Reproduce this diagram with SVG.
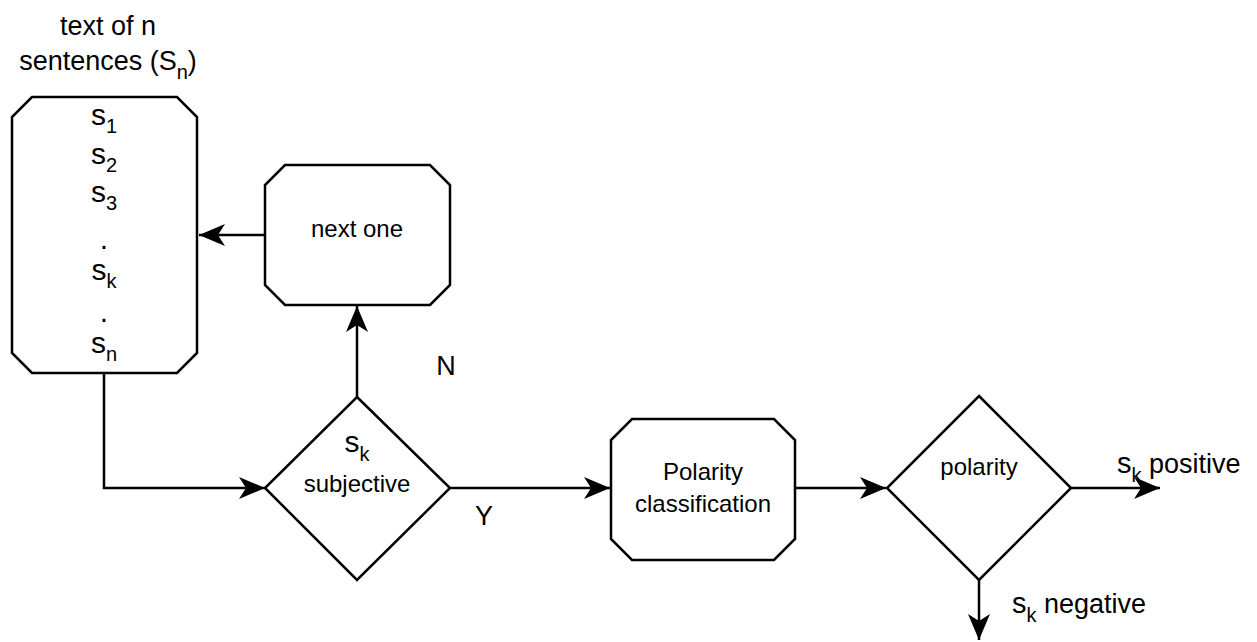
<svg xmlns="http://www.w3.org/2000/svg" width="1257" height="642" viewBox="0 0 1257 642">
<style>
.shape{fill:#fff;stroke:#000;stroke-width:2.5}
.edge{fill:none;stroke:#000;stroke-width:2.5}
text{font-family:"Liberation Sans",Arial,sans-serif;fill:#000}
.lbl{font-size:24px;text-anchor:middle}
.big{font-size:27px}
.s{font-size:30px;text-anchor:middle}
.sub{font-size:20px}
</style>
<defs>
<marker id="arr" viewBox="-27 -12 28 24" markerWidth="28" markerHeight="24" refX="0" refY="0" orient="auto" markerUnits="userSpaceOnUse">
<path d="M0,0 L-26,-11 L-19,0 L-26,11 Z" fill="#000"/>
</marker>
</defs>
<rect width="1257" height="642" fill="#fff"/>
<g id="title">
<text class="big" font-size="28" x="108" y="35" text-anchor="middle">text of n</text>
<text class="big" font-size="28" x="108" y="70" text-anchor="middle">sentences (S<tspan class="sub" font-size="22" dy="9">n</tspan><tspan dy="-9">)</tspan></text>
</g>
<g id="connectors">
<path class="edge" d="M104,373 V488 H265" marker-end="url(#arr)"/>
<path class="edge" d="M265,235 H199" marker-end="url(#arr)"/>
<path class="edge" d="M357,397 V306" marker-end="url(#arr)"/>
<path class="edge" d="M450,488 H610" marker-end="url(#arr)"/>
<path class="edge" d="M795,488 H886" marker-end="url(#arr)"/>
<path class="edge" d="M1071,488 H1160" marker-end="url(#arr)"/>
<path class="edge" d="M979,580 V640" marker-end="url(#arr)"/>
<text class="big" x="446" y="375" text-anchor="middle">N</text>
<text class="big" x="484" y="525" text-anchor="middle">Y</text>
<text class="big" x="1117" y="473"><tspan font-size="29">s</tspan><tspan class="sub" dy="9">k</tspan><tspan dy="-9"> positive</tspan></text>
<text class="big" x="1012" y="613"><tspan font-size="29">s</tspan><tspan class="sub" dy="9">k</tspan><tspan dy="-9"> negative</tspan></text>
</g>
<g id="sentences">
<path class="shape" d="M32,97 H177 L197,117 V353 L177,373 H32 L12,353 V117 Z"/>
<text class="s" x="104" y="125">s<tspan class="sub" dy="8">1</tspan></text>
<text class="s" x="104" y="164">s<tspan class="sub" dy="8">2</tspan></text>
<text class="s" x="104" y="202">s<tspan class="sub" dy="8">3</tspan></text>
<text class="s" x="104" y="249">.</text>
<text class="s" x="104" y="280">s<tspan class="sub" dy="8">k</tspan></text>
<text class="s" x="104" y="322">.</text>
<text class="s" x="104" y="353">s<tspan class="sub" dy="8">n</tspan></text>
</g>
<g id="next-one">
<path class="shape" d="M285,165 H430 L450,185 V285 L430,305 H285 L265,285 V185 Z"/>
<text class="lbl" x="357" y="237">next one</text>
</g>
<g id="subjective">
<path class="shape" d="M357,397 L450,488 L357,580 L265,488 Z"/>
<text class="s" x="357" y="452">s<tspan class="sub" dy="9">k</tspan></text>
<text class="lbl" x="357" y="492">subjective</text>
</g>
<g id="polarity-classification">
<path class="shape" d="M632,419 H774 L795,440 V539 L774,560 H632 L611,539 V440 Z"/>
<text class="lbl" font-size="25" x="703" y="480">Polarity</text>
<text class="lbl" font-size="25" x="703" y="512">classification</text>
</g>
<g id="polarity">
<path class="shape" d="M979,396 L1071,488 L979,580 L887,488 Z"/>
<text class="lbl" x="979" y="475">polarity</text>
</g>
</svg>
